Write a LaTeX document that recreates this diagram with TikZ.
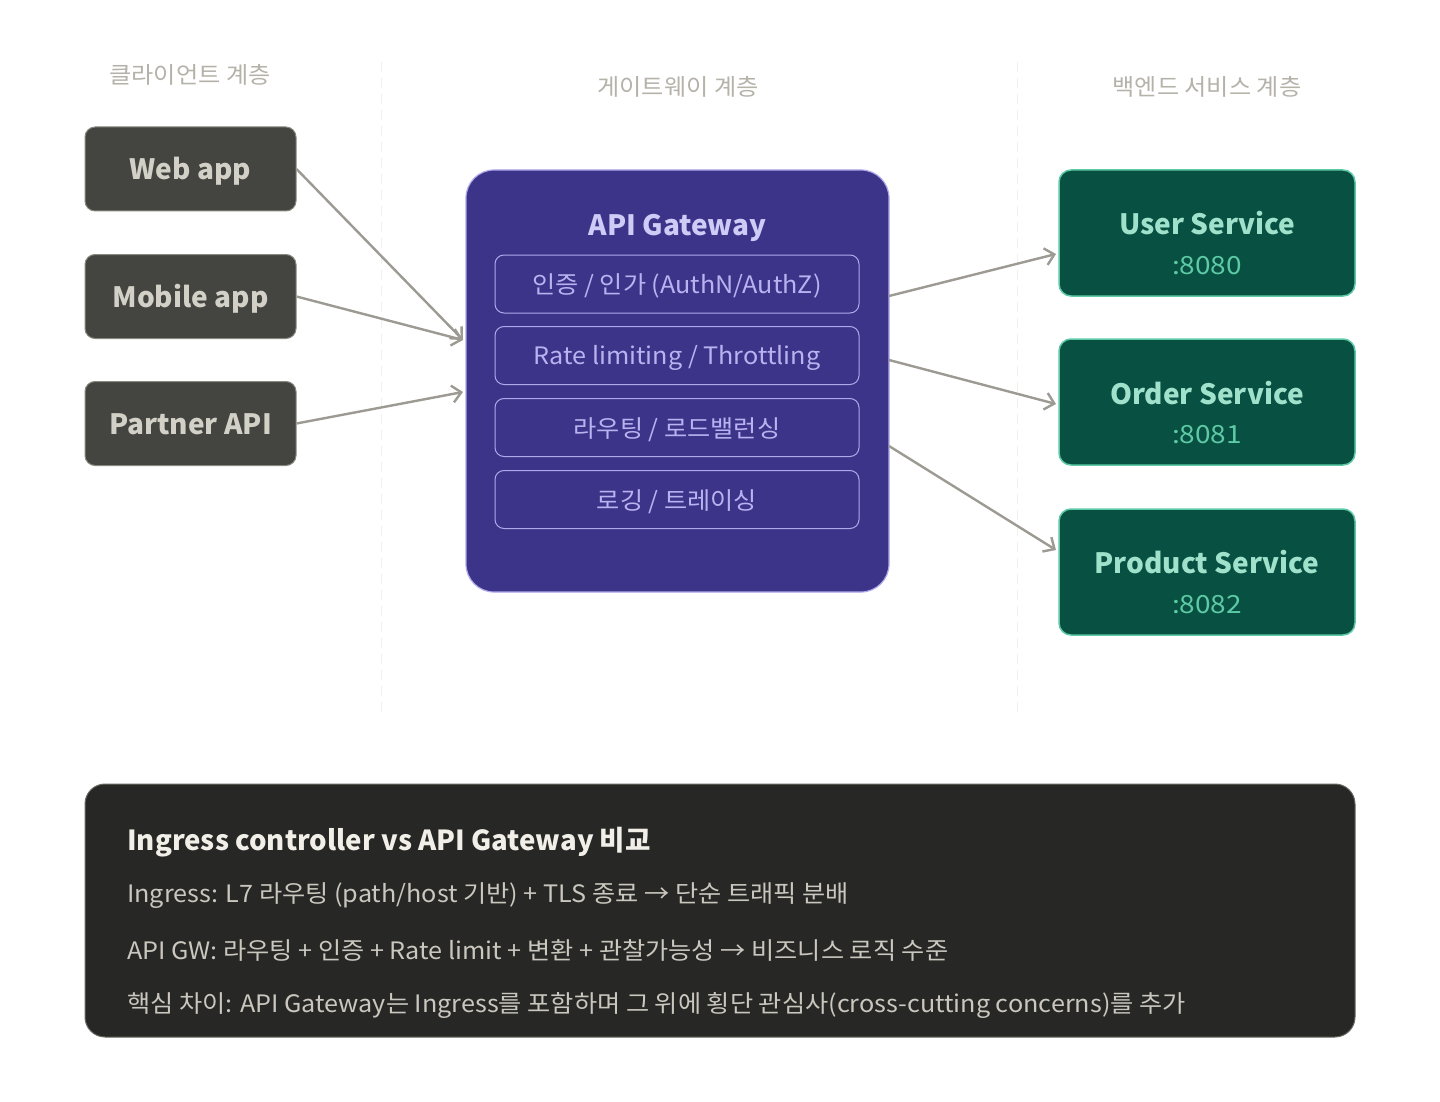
\documentclass[tikz,border=0pt]{standalone}
\usepackage{fontspec}
\setmainfont{Noto Sans CJK KR}
\newfontfamily\widefont{Noto Sans CJK KR}[FakeStretch=1.05]
\newfontfamily\portfont{Noto Sans CJK KR}[FakeStretch=1.12]
\usetikzlibrary{arrows.meta}
\definecolor{hdr}{HTML}{B4B2A9}
\definecolor{clifill}{HTML}{444441}
\definecolor{clidraw}{HTML}{8A8880}
\definecolor{clitext}{HTML}{D3D1C7}
\definecolor{gwfill}{HTML}{3C3489}
\definecolor{gwdraw}{HTML}{AFA9EC}
\definecolor{gwtitle}{HTML}{CECBF6}
\definecolor{gwtext}{HTML}{B8B3F0}
\definecolor{svfill}{HTML}{085041}
\definecolor{svdraw}{HTML}{5DCAA5}
\definecolor{svtitle}{HTML}{9FE1CB}
\definecolor{svport}{HTML}{5DCAA5}
\definecolor{pnfill}{HTML}{272725}
\definecolor{pndraw}{HTML}{6A6862}
\definecolor{pntitle}{HTML}{F1EFE8}
\definecolor{pntext}{HTML}{CAC7BE}
\definecolor{arr}{HTML}{9C9A92}
\definecolor{sep}{HTML}{F2F1EE}
\tikzset{
  hdrtext/.style={text=hdr, font=\widefont\fontsize{23}{27}\selectfont},
  clibox/.style={draw=clidraw, line width=1pt, fill=clifill, rounded corners=10pt, minimum width=211pt, minimum height=84pt, inner sep=0pt, text height=22pt, text depth=0pt, text=clitext, font=\bfseries\fontsize{28}{32}\selectfont},
  gwbox/.style={draw=gwdraw, line width=1.2pt, fill=gwfill, rounded corners=28pt, minimum width=423pt, minimum height=422pt, inner sep=0pt},
  gwtitlestyle/.style={text=gwtitle, font=\bfseries\fontsize{28}{32}\selectfont},
  featbox/.style={draw=gwdraw, line width=1pt, rounded corners=9pt, minimum width=364pt, minimum height=58pt, inner sep=0pt, text=gwtext, font=\widefont\fontsize{24}{28}\selectfont},
  svbox/.style={draw=svdraw, line width=1.5pt, fill=svfill, rounded corners=12pt, minimum width=296pt, minimum height=126pt, inner sep=0pt},
  svtitlestyle/.style={text=svtitle, font=\bfseries\fontsize{28}{32}\selectfont},
  svportstyle/.style={text=svport, font=\portfont\fontsize{25}{29}\selectfont},
  panel/.style={draw=pndraw, line width=1pt, fill=pnfill, rounded corners=20pt, minimum width=1270pt, minimum height=253pt, inner sep=0pt},
  pntitlestyle/.style={anchor=west, text=pntitle, font=\bfseries\fontsize{27.6}{31}\selectfont, inner sep=0pt},
  pnline/.style={anchor=west, text=pntext, font=\widefont\fontsize{24}{28}\selectfont, inner sep=0pt},
  flow/.style={draw=arr, line width=2.4pt, -{Straight Barb[length=9pt,width=17pt,line width=2.4pt]}},
  sepline/.style={draw=sep, line width=1pt, dash pattern=on 10pt off 6pt}
}
\begin{document}
\begin{tikzpicture}[x=1pt,y=-1pt]
\useasboundingbox[fill=white] (0,0) rectangle (1440,1102);
% separators
\coordinate (s1t) at (381,62); \coordinate (s1b) at (381,712);
\coordinate (s2t) at (1017,62); \coordinate (s2b) at (1017,715);
\draw[sepline] (s1t) -- (s1b);
\draw[sepline] (s2t) -- (s2b);
% headers
\node[hdrtext] (h1) at (190,75) {클라이언트 계층};
\node[hdrtext] (h2) at (678,87) {게이트웨이 계층};
\node[hdrtext] (h3) at (1207,87) {백엔드 서비스 계층};
% clients
\node[clibox] (web) at (190.5,169) {Web app};
\node[clibox] (mob) at (190.5,296.5) {Mobile app};
\node[clibox] (par) at (190.5,423.5) {Partner API};
% gateway
\node[gwbox] (gw) at (677.5,381) {};
\node[gwtitlestyle] (gwt) at (677.5,228) {API Gateway};
\node[featbox] (f1) at (677,284) {};
\node[featbox] (f2) at (677,355.5) {};
\node[featbox] (f3) at (677,427.5) {};
\node[featbox] (f4) at (677,499.5) {};
\node[featbox, draw=none] (f1t) at (677,286) {인증 / 인가 (AuthN/AuthZ)};
\node[featbox, draw=none] (f2t) at (677,357.5) {Rate limiting / Throttling};
\node[featbox, draw=none] (f3t) at (677,429.5) {라우팅 / 로드밸런싱};
\node[featbox, draw=none] (f4t) at (677,501.5) {로깅 / 트레이싱};
% services
\node[svbox] (us) at (1207,233) {};
\node[svtitlestyle] (ust) at (1207,223) {User Service};
\node[svportstyle] (usp) at (1207,265.5) {:8080};
\node[svbox] (os) at (1207,402) {};
\node[svtitlestyle] (ost) at (1207,393) {Order Service};
\node[svportstyle] (osp) at (1207,434.5) {:8081};
\node[svbox] (ps) at (1207,572) {};
\node[svtitlestyle] (pst) at (1207,562) {Product Service};
\node[svportstyle] (psp) at (1207,604.5) {:8082};
% arrow anchor points
\coordinate (gin1) at (463,340);
\coordinate (gin2) at (463,392);
\coordinate (gout1) at (889,296);
\coordinate (gout2) at (889,360);
\coordinate (gout3) at (889,446);
\coordinate (usin) at (1056,254);
\coordinate (osin) at (1056,404);
\coordinate (psin) at (1056,550);
\draw[flow] (web.east) -- (gin1);
\draw[flow] (mob.east) -- (gin1);
\draw[flow] (par.east) -- (gin2);
\draw[flow] (gout1) -- (usin);
\draw[flow] (gout2) -- (osin);
\draw[flow] (gout3) -- (psin);
% bottom panel
\node[panel] (pn) at (720,910.5) {};
\node[pntitlestyle] (pt) at (127,842) {Ingress controller vs API Gateway 비교};
\node[pnline] (l1) at (127,895.5) {Ingress: L7 라우팅 (path/host 기반) + TLS 종료 → 단순 트래픽 분배};
\node[pnline] (l2) at (127,950.5) {API GW: 라우팅 + 인증 + Rate limit + 변환 + 관찰가능성 → 비즈니스 로직 수준};
\node[pnline] (l3) at (127,1005.5) {핵심 차이: API Gateway는 Ingress를 포함하며 그 위에 횡단 관심사(cross-cutting concerns)를 추가};
\end{tikzpicture}
\end{document}
